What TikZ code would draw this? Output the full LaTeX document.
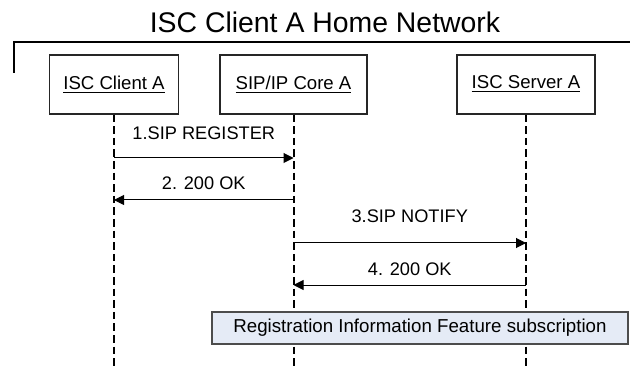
\documentclass[tikz,border=0pt]{standalone}
\usepackage{fontspec}
\setmainfont{Liberation Sans}
\usetikzlibrary{arrows.meta,positioning}

\definecolor{notefill}{RGB}{229,235,246}

\tikzset{
  entity/.style={draw=black!85, line width=0.6pt, minimum height=29.5pt,
    inner sep=0pt, font=\fontsize{9.3}{11}\selectfont},
  lifeline/.style={line width=1pt, dash pattern=on 3.8pt off 2pt},
  msg/.style={line width=0.5pt, -{Triangle[length=5pt,width=5pt]}},
  msglabel/.style={font=\fontsize{9.1}{11}\selectfont, anchor=base},
  note/.style={draw=black!70, fill=notefill, line width=0.6pt,
    inner sep=0pt, font=\fontsize{9.35}{11}\selectfont}
}

\begin{document}
\begin{tikzpicture}[x=0.5pt,y=-0.5pt]
  \useasboundingbox (0,0) rectangle (630,368);
  % network frame
  \node[font=\fontsize{14.2}{16}\selectfont] (title) at (325,22.5) {ISC Client A Home Network};
  \draw[line width=1pt] (14,73) -- (14,42) -- (630,42);
  %
  \node[entity, minimum width=64.5pt] (client) at (114,84.5) {\underline{ISC Client A}};
  \node[entity, minimum width=73.5pt] (core) at (293.5,84.5) {\underline{SIP/IP Core A}};
  \node[entity, minimum width=69pt] (server) at (526,84.5) {\underline{ISC Server A}};
  %
  \coordinate (bottom) at (0,368);
  \draw[lifeline] (client.south) -- (client.south |- bottom);
  \draw[lifeline] (core.south) -- (core.south |- bottom);
  \draw[lifeline] (server.south) -- (server.south |- bottom);
  %
  \coordinate (m1) at (0,158);
  \coordinate (m2) at (0,200);
  \coordinate (m3) at (0,243);
  \coordinate (m4) at (0,285);
  \draw[msg] (client |- m1) -- (core |- m1) node[msglabel, midway, yshift=9pt] {1.SIP REGISTER};
  \draw[msg] (core |- m2) -- (client |- m2) node[msglabel, midway, yshift=5pt] {2. 200 OK};
  \draw[msg] (core |- m3) -- (server |- m3) node[msglabel, midway, yshift=10pt] {3.SIP NOTIFY};
  \draw[msg] (server |- m4) -- (core |- m4) node[msglabel, midway, yshift=5pt] {4. 200 OK};
  %
  \node[note, minimum width=208pt, minimum height=16pt] (reginfo) at (420,328)
    {Registration Information Feature subscription};
\end{tikzpicture}
\end{document}
